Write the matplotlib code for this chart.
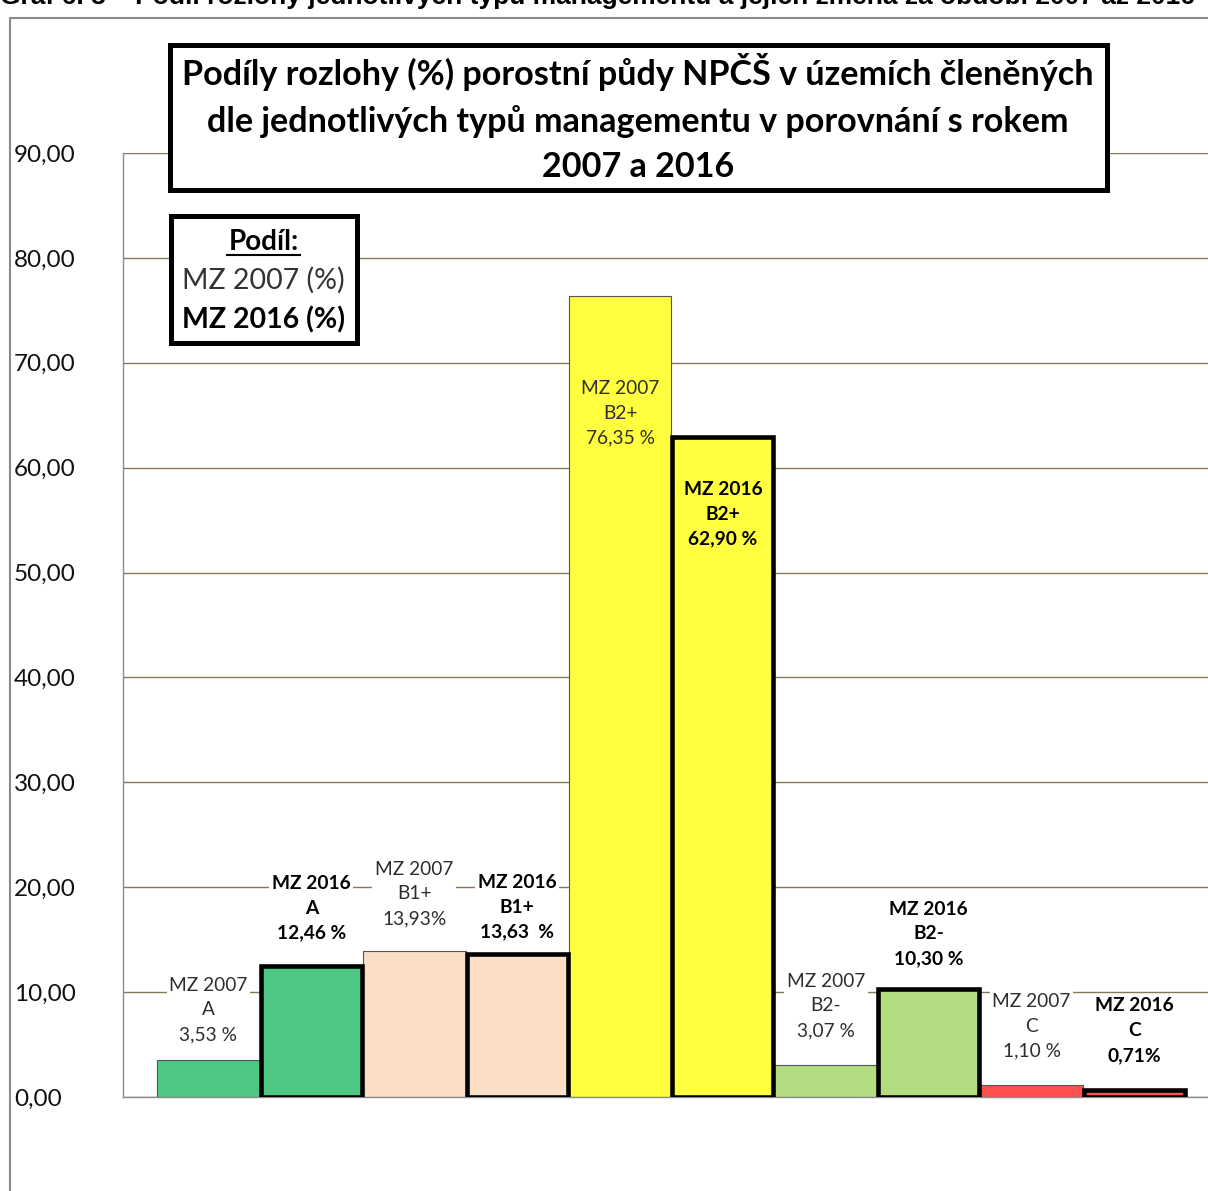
import matplotlib
matplotlib.use("Agg")
import matplotlib.pyplot as plt
from matplotlib.patches import Rectangle
from matplotlib.lines import Line2D

# ---- data ----
categories = ["A", "B1+", "B2+", "B2-", "C"]
mz2007 = [3.53, 13.93, 76.35, 3.07, 1.10]
mz2016 = [12.46, 13.63, 62.90, 10.30, 0.71]
lab2007 = ["3,53 %", "13,93%", "76,35 %", "3,07 %", "1,10 %"]
lab2016 = ["12,46 %", "13,63  %", "62,90 %", "10,30 %", "0,71%"]
yticks = [0, 10, 20, 30, 40, 50, 60, 70, 80, 90]
ytick_labels = ["0,00", "10,00", "20,00", "30,00", "40,00", "50,00",
                "60,00", "70,00", "80,00", "90,00"]
title = ("Podíly rozlohy (%) porostní půdy NPČŠ v územích členěných\n"
         "dle jednotlivých typů managementu v porovnání s rokem\n"
         "2007 a 2016")
caption = ("Graf 6. 3 – Podíl rozlohy jednotlivých typů managementu "
           "a jejich změna za období 2007 až 2016")

# ---- styles ----
colors = ["#4CC884", "#FADEC6", "#FFFF40", "#B3DB80", "#FF5050"]
off2007_px = [50, 57, -117, 59, 59]
off2016_px = [58, 47, -77, 55, 59]
FONT = "Lato"

W, H = 1208, 1191
fig = plt.figure(figsize=(W / 100, H / 100), dpi=100)

def fx(px):
    return px / W

def fy(py):
    return 1 - py / H

ax = fig.add_axes([fx(123), fy(1097), fx(1208) - fx(123), fy(153) - fy(1097)])

x07 = [2 * i for i in range(len(categories))]
x16 = [2 * i + 1 for i in range(len(categories))]

ax.bar(x07, mz2007, width=1.0, color=colors, edgecolor="#555555",
       linewidth=0.8, zorder=2)
ax.bar(x16, mz2016, width=0.98, color=colors, edgecolor="black",
       linewidth=3.3, zorder=3)

ax.set_xlim(-0.83, 9.714)
ax.set_ylim(0, 90)
ax.set_yticks(yticks)
ax.set_yticklabels(ytick_labels, fontsize=17.5, family=FONT, ha="left",
                   color="#111111")
ax.tick_params(axis="y", length=0, pad=78.5)
ax.set_xticks([])
ax.yaxis.grid(True, color="#857a58", linewidth=1.0, zorder=0)
ax.set_axisbelow(True)
for s in ["top", "right"]:
    ax.spines[s].set_visible(False)
ax.spines["left"].set_color("#8c8c8c")
ax.spines["bottom"].set_color("#8c8c8c")
ax.spines["left"].set_linewidth(1.0)
ax.spines["bottom"].set_linewidth(1.0)

def add_label(x, v, txt, off, bold):
    inside = off < 0
    kw = dict(ha="center", va="center", fontsize=13.8, family=FONT,
              linespacing=1.55, textcoords="offset points", zorder=5)
    if bold:
        kw.update(fontweight="bold", color="black")
    else:
        kw.update(color="#2e2e2e")
    if not inside:
        kw["bbox"] = dict(facecolor="white", edgecolor="none", pad=2)
    ax.annotate(txt, xy=(x, v), xytext=(0, off * 0.72), **kw)

for i, cat in enumerate(categories):
    add_label(x07[i], mz2007[i], f"MZ 2007\n{cat}\n{lab2007[i]}",
              off2007_px[i], False)
    add_label(x16[i], mz2016[i], f"MZ 2016\n{cat}\n{lab2016[i]}",
              off2016_px[i], True)

# outer chart frame
fig.add_artist(Line2D([fx(10), fx(10), fx(1210)], [fy(1195), fy(18), fy(18)],
                      color="#8a8a8a", linewidth=1.5))

# caption (cut at top, as in the source)
fig.text(fx(0), fy(4), caption, ha="left", va="baseline", fontsize=19,
         fontweight="bold", family="Liberation Sans")

# title box
fig.add_artist(Rectangle((fx(170), fy(190)), fx(1107) - fx(170),
                         fy(45) - fy(190), facecolor="white",
                         edgecolor="black", linewidth=3.6, zorder=6))
fig.text(fx(638), fy(118), title, ha="center", va="center", fontsize=24.6,
         fontweight="bold", family=FONT, linespacing=1.5, zorder=7)

# legend box
fig.add_artist(Rectangle((fx(171), fy(343)), fx(357) - fx(171),
                         fy(216) - fy(343), facecolor="white",
                         edgecolor="black", linewidth=3.6, zorder=6))
fig.text(fx(264), fy(242), "Podíl:", ha="center", va="center", fontsize=20,
         fontweight="bold", family=FONT, zorder=7)
fig.add_artist(Line2D([fx(227), fx(300)], [fy(255), fy(255)], color="black",
                      linewidth=1.5, zorder=7))
fig.text(fx(263), fy(280), "MZ 2007 (%)", ha="center", va="center",
         fontsize=20.5, family=FONT, color="#333333", zorder=7)
fig.text(fx(263), fy(320), "MZ 2016 (%)", ha="center", va="center",
         fontsize=20.5, fontweight="bold", family=FONT, zorder=7)

fig.savefig("out.png", dpi=100, facecolor="white")
